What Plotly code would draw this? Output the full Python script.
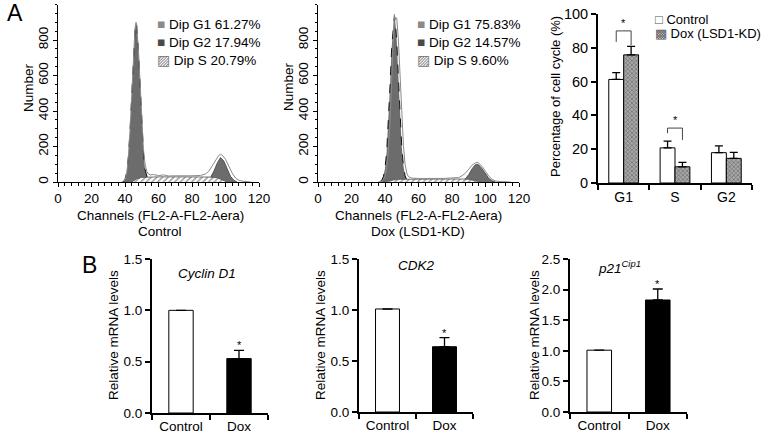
import plotly.graph_objects as go

W, H = 764, 437
FONT = "Liberation Sans, Arial, sans-serif"

# ---- Panel A: DNA content histograms (channel, cell number) ----
ctrl_g1_ch = [39, 40, 41, 42, 43, 44, 45, 46, 46.6, 47, 48, 49, 50, 51, 52, 53, 54]
ctrl_g1_n = [0, 15, 55, 140, 290, 495, 715, 865, 896, 880, 750, 540, 330, 165, 70, 25, 0]
ctrl_g2_ch = [87, 89, 91, 93, 95, 97, 99, 101, 103, 105, 107]
ctrl_g2_n = [0, 8, 25, 60, 105, 138, 118, 72, 32, 10, 0]
ctrl_s_ch = [44, 47, 50, 55, 60, 70, 80, 90, 95, 98, 101]
ctrl_s_n = [0, 18, 26, 28, 29, 29, 29, 28, 24, 12, 0]
ctrl_tot_ch = [38, 40, 41, 42, 43, 44, 45, 46, 46.6, 47, 48, 49, 50, 51, 52, 53, 54, 55, 57, 60, 63,
               66, 70, 75, 80, 85, 88, 90, 92, 94, 96, 97, 98, 100, 102, 104, 106, 108, 110, 113, 115]
ctrl_tot_n = [0, 10, 45, 140, 290, 500, 720, 870, 900, 880, 750, 545, 340, 185, 100, 60, 45, 40, 42, 36, 40,
              34, 35, 34, 35, 37, 45, 60, 90, 125, 150, 156, 152, 128, 90, 50, 22, 10, 5, 3, 0]

dox_g1_ch = [37, 38, 39, 40, 41, 42, 43, 44, 45, 45.6, 46, 47, 48, 49, 50, 51, 52, 53, 54]
dox_g1_n = [2, 9, 29, 76, 172, 332, 544, 762, 909, 935, 923, 799, 590, 371, 199, 91, 35, 12, 3]
dox_g2_ch = [84, 86, 88, 90, 92, 94, 95, 96, 98, 100, 102, 104, 106]
dox_g2_n = [0, 6, 18, 42, 75, 98, 100, 96, 75, 45, 20, 7, 0]
dox_s_ch = [40, 44, 48, 55, 65, 75, 85, 90, 94, 97]
dox_s_n = [0, 10, 15, 16, 17, 17, 17, 15, 8, 0]
dox_tot_ch = [36, 38, 39, 40, 41, 42, 43, 44, 45, 45.6, 46, 47, 48, 49, 50, 51, 52, 53, 54, 56, 60, 65,
              70, 75, 80, 84, 86, 88, 90, 92, 94, 95, 96, 98, 100, 102, 104, 106, 108, 112, 115]
dox_tot_n = [0, 5, 12, 32, 80, 175, 340, 550, 770, 945, 915, 925, 800, 590, 375, 205, 100, 50, 30, 22, 20, 22,
             20, 20, 21, 25, 35, 50, 72, 95, 108, 111, 106, 88, 60, 32, 15, 6, 3, 2, 0]

ctrl_labels = ["Dip G1 61.27%", "Dip G2 17.94%", "Dip S 20.79%"]
dox_labels = ["Dip G1 75.83%", "Dip G2 14.57%", "Dip S 9.60%"]

# ---- Panel A right: cell cycle percentages ----
phases = ["G1", "S", "G2"]
pct_control = [61.27, 20.79, 17.94]
pct_control_err = [4.0, 4.0, 4.0]
pct_dox = [75.83, 9.60, 14.57]
pct_dox_err = [5.0, 2.6, 3.6]
sig_phase = [0, 1]
sig_level = [90, 32.5]
sig_left = [83.5, 29.5]
sig_right = [81.5, 25.5]

# ---- Panel B: relative mRNA levels ----
groups = ["Control", "Dox"]
genes = ["<i>Cyclin D1</i>", "<i>CDK2</i>", "<i>p21<sup>Cip1</sup></i>"]
mrna = [[1.0, 0.53], [1.01, 0.64], [1.01, 1.83]]
mrna_err = [[0, 0.08], [0, 0.09], [0, 0.18]]
mrna_top = [1.5, 1.5, 2.5]


def px(x):
    return x / W


def py(y):
    return 1 - y / H


fig = go.Figure()

HIST_FILL = "#6c6c6c"
for i, (g1c, g1n, g2c, g2n, sc, sn, tc, tn) in enumerate([
    (ctrl_g1_ch, ctrl_g1_n, ctrl_g2_ch, ctrl_g2_n, ctrl_s_ch, ctrl_s_n, ctrl_tot_ch, ctrl_tot_n),
    (dox_g1_ch, dox_g1_n, dox_g2_ch, dox_g2_n, dox_s_ch, dox_s_n, dox_tot_ch, dox_tot_n),
]):
    xa, ya = ("x", "y") if i == 0 else ("x2", "y2")
    fig.add_trace(go.Scatter(x=g2c, y=g2n, xaxis=xa, yaxis=ya, mode="lines", fill="tozeroy",
                             fillcolor=HIST_FILL, line=dict(color="#444", width=0.8)))
    fig.add_trace(go.Scatter(x=g1c, y=g1n, xaxis=xa, yaxis=ya, mode="lines", fill="tozeroy",
                             fillcolor=HIST_FILL, line=dict(color="black", width=0.9, dash="dash")))
    fig.add_trace(go.Scatter(x=sc, y=sn, xaxis=xa, yaxis=ya, mode="lines", fill="tozeroy",
                             fillcolor="white", line=dict(color="#555", width=0.8),
                             fillpattern=dict(shape="/", fgcolor="#444", bgcolor="white",
                                              size=4, solidity=0.4)))
    fig.add_trace(go.Scatter(x=tc, y=tn, xaxis=xa, yaxis=ya, mode="lines",
                             line=dict(color="#8a8a8a", width=1), hoverinfo="skip"))

# cell-cycle bar chart (numeric positions, labelled with phase names)
GAP = 0.42
half = (1 - GAP) / 4
pos = list(range(len(phases)))
fig.add_trace(go.Bar(x=pos, y=pct_control, xaxis="x3", yaxis="y3", name="Control",
                     marker=dict(color="white", line=dict(color="black", width=1)),
                     error_y=dict(type="data", array=pct_control_err, arrayminus=[0] * 3,
                                  symmetric=False, color="black", thickness=1.3, width=4)))
fig.add_trace(go.Bar(x=pos, y=pct_dox, xaxis="x3", yaxis="y3", name="Dox (LSD1-KD)",
                     marker=dict(color="#8c8c8c", line=dict(color="black", width=1),
                                 pattern=dict(shape="x", fgcolor="#2e2e2e", bgcolor="#a8a8a8",
                                              size=3, solidity=0.4)),
                     error_y=dict(type="data", array=pct_dox_err, arrayminus=[0] * 3,
                                  symmetric=False, color="black", thickness=1.3, width=4)))

for k in range(len(sig_phase)):
    c = pos[sig_phase[k]]
    fig.add_trace(go.Scatter(x=[c - half, c - half, c + half, c + half],
                             y=[sig_left[k], sig_level[k], sig_level[k], sig_right[k]],
                             xaxis="x3", yaxis="y3", mode="lines",
                             line=dict(color="#444", width=1), hoverinfo="skip"))

# mRNA bar charts
for g in range(3):
    n = g + 4
    fig.add_trace(go.Bar(x=groups, y=mrna[g], xaxis=f"x{n}", yaxis=f"y{n}", width=0.42,
                         marker=dict(color=["white", "black"], line=dict(color="black", width=1)),
                         error_y=dict(type="data", array=mrna_err[g], arrayminus=[0, 0],
                                      symmetric=False, color="black", thickness=1.3, width=5)))

axis_common = dict(showline=True, linecolor="black", showgrid=False, zeroline=False,
                   ticks="outside", tickcolor="black", automargin=False,
                   tickfont=dict(size=13.5, color="black", family=FONT), fixedrange=True)

layout = dict(
    width=W, height=H, margin=dict(l=0, r=0, t=0, b=0, autoexpand=False),
    paper_bgcolor="white", plot_bgcolor="white", showlegend=False,
    font=dict(family=FONT, color="black", size=13.5),
    barmode="group", bargap=GAP, bargroupgap=0,
)

hist_domains = [(58, 259), (318, 519)]
for i, (x0, x1) in enumerate(hist_domains):
    sx = "" if i == 0 else "2"
    layout[f"xaxis{sx}"] = dict(axis_common, domain=[px(x0), px(x1)], range=[0, 120],
                                tickvals=list(range(0, 121, 20)), ticklen=4, linewidth=1.2,
                                anchor=f"y{sx}",
                                minor=dict(dtick=4, ticks="outside", ticklen=3, tickcolor="black"))
    layout[f"yaxis{sx}"] = dict(axis_common, domain=[py(182), py(4.5)], range=[0, 1000],
                                tickvals=list(range(0, 801, 200)), tickangle=-90, ticklen=4,
                                linewidth=1.2, anchor=f"x{sx}",
                                minor=dict(dtick=50, ticks="outside", ticklen=2, tickcolor="black"))

layout["xaxis3"] = dict(axis_common, domain=[px(598), px(752)], anchor="y3", linewidth=2,
                        range=[-0.5, len(phases) - 0.5], tickvals=pos, ticktext=phases,
                        ticks="", tickfont=dict(size=14, color="black", family=FONT),
                        minor=dict(tickvals=[p - 0.5 for p in pos] + [pos[-1] + 0.5],
                                   ticks="outside", ticklen=5, tickwidth=1.5, tickcolor="black"))
layout["yaxis3"] = dict(axis_common, domain=[py(183), py(14)], range=[0, 100], anchor="x3",
                        dtick=20, linewidth=2, ticklen=5, tickwidth=1.5,
                        tickfont=dict(size=14.5, color="black", family=FONT))

b_domains = [((152, 268), (413, 259)), ((359, 473), (412, 259)), ((570, 687), (412, 259))]
for g, ((x0, x1), (y0, y1)) in enumerate(b_domains):
    n = g + 4
    layout[f"xaxis{n}"] = dict(axis_common, domain=[px(x0), px(x1)], anchor=f"y{n}", linewidth=2,
                               tickson="boundaries", ticklen=5, tickwidth=1.5)
    layout[f"yaxis{n}"] = dict(axis_common, domain=[py(y0), py(y1)], range=[0, mrna_top[g]],
                               anchor=f"x{n}", dtick=0.5, tickformat=".1f", linewidth=2,
                               ticklen=5, tickwidth=1.5)

fig.update_layout(**layout)


def note(text, x, y, size=13.5, angle=0, anchor="center", **kw):
    fig.add_annotation(text=text, x=px(x), y=py(y), xref="paper", yref="paper", showarrow=False,
                       xanchor=anchor, yanchor="middle", textangle=angle,
                       font=dict(size=size, family=FONT, color="black"), **kw)


note("A", 15, 13, size=23)
note("B", 89, 265, size=23)

marks = ["<span style='color:#8a8a8a'>■</span>", "<span style='color:#4a4a4a'>■</span>",
         "<span style='color:#777'>▨</span>"]
for i, (labels, x0, cx, sub) in enumerate([(ctrl_labels, 155, 160, "Control"),
                                           (dox_labels, 415, 418, "Dox (LSD1-KD)")]):
    for r, lab in enumerate(labels):
        note(f"{marks[r]} {lab}", x0, 24 + 18 * r, anchor="left")
    note("Number", 28 + 260 * i, 87, angle=-90)
    note("Channels (FL2-A-FL2-Aera)", cx, 216)
    note(sub, cx, 232)

note("Percentage of cell cycle (%)", 555, 97, size=13, angle=-90)
note("<span style='color:#555'>□</span> Control", 653, 20, size=13, anchor="left")
note("<span style='color:#555'>▩</span> Dox (LSD1-KD)", 653, 34, size=13, anchor="left")

for k in range(len(sig_phase)):
    fig.add_annotation(text="*", x=pos[sig_phase[k]], y=sig_level[k], xref="x3", yref="y3",
                       showarrow=False, yanchor="bottom", yshift=0,
                       font=dict(size=11, family=FONT, color="black"))

title_pos = [(207, 273), (416, 265), (619, 267)]
ylab_x = [113, 320, 534]
for g in range(3):
    n = g + 4
    note(genes[g], title_pos[g][0], title_pos[g][1])
    note("Relative mRNA levels", ylab_x[g], 335, angle=-90)
    fig.add_annotation(text="*", x=groups[1], y=mrna[g][1] + mrna_err[g][1], xref=f"x{n}", yref=f"y{n}",
                       showarrow=False, yanchor="bottom", yshift=-3,
                       font=dict(size=11, family=FONT, color="black"))

# remove the default page margin so the figure sits at the window's top-left corner
fig.write_html("out.html", config={"displayModeBar": False},
               post_script="document.body.style.margin='0';")
